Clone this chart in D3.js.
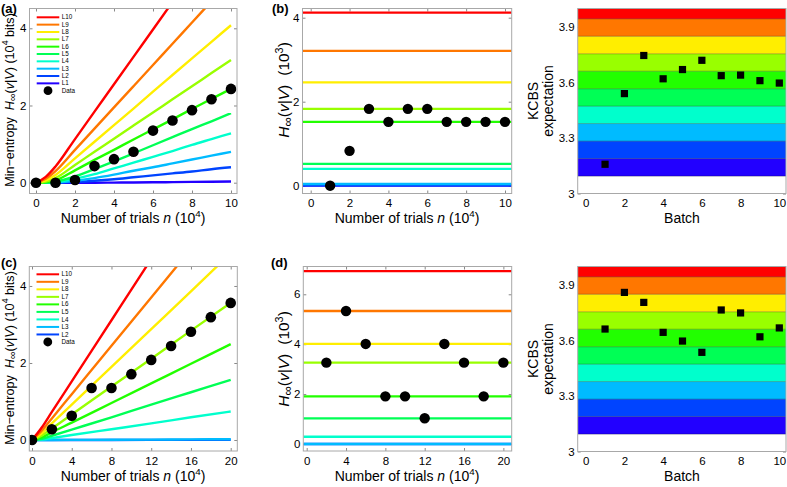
<!DOCTYPE html>
<html><head><meta charset="utf-8">
<script src="https://cdn.jsdelivr.net/npm/d3@7"></script>
<style>body{margin:0;background:#fff}text{font-family:"Liberation Sans",Arial,sans-serif;white-space:pre}</style>
</head><body><svg id="c" width="787" height="487"></svg>
<script>
// ---------- data ----------
const levelNames  = ["L1","L2","L3","L4","L5","L6","L7","L8","L9","L10"];
const levelColors = ["#2200ff","#0044ff","#00bbff","#00ffcc","#00ff55","#22ff00","#99ff00","#ffee00","#ff7700","#ff0000"];

// panel (a): min-entropy curves vs trials (10^4), values in 10^4 bits
const aTrials = [0,0.5,1,2,3,4,5,6,7,8,9,10];
const aL1  = [0,0,0,0,0,0.003,0.006,0.01,0.015,0.02,0.025,0.03];
const aL2  = [0,0,0,0.02,0.05,0.09,0.14,0.19,0.24,0.29,0.35,0.40];
const aL3  = [0,0,0.01,0.05,0.12,0.21,0.31,0.40,0.50,0.60,0.70,0.80];
const aL4  = [0,0.003,0.02,0.10,0.22,0.37,0.52,0.67,0.82,0.98,1.13,1.28];
const aL5  = [0,0.005,0.03,0.16,0.35,0.55,0.76,0.97,1.18,1.39,1.59,1.80];
const aL6  = [0,0.01,0.06,0.32,0.59,0.85,1.12,1.38,1.64,1.91,2.17,2.43];
const aL7  = [0,0.03,0.12,0.46,0.80,1.14,1.48,1.82,2.16,2.50,2.84,3.18];
const aL8  = [0,0.06,0.20,0.63,1.06,1.49,1.92,2.36,2.79,3.22,3.65,4.08];
const aL9  = [0,0.10,0.30,0.85,1.40,1.95,2.50,3.05,3.60,4.15,4.70,5.25];
const aL10 = [0,0.15,0.42,1.13,1.84,2.55,3.26,3.97,4.68,5.39,6.10,6.81];
const aDataN = [0,1,2,3,4,5,6,7,8,9,10];
const aData  = [0,0,0.07,0.43,0.61,0.80,1.35,1.61,1.88,2.16,2.43];

// panel (b): per-batch levels (10^3)
const bLevels = [0,0.01,0.04,0.40,0.52,1.52,1.83,2.46,3.21,4.12];
const bBatch  = [1,2,3,4,5,6,7,8,9,10];
const bData   = [0,0.83,1.83,1.52,1.83,1.83,1.52,1.52,1.52,1.52];

// panel (c)
const cTrials = [0,1,2,4,8,12,16,20];
const cL2  = [0,0,0,0,0,0.002,0.004,0.005];
const cL3  = [0,0,0,0.002,0.005,0.01,0.015,0.02];
const cL4  = [0,0.01,0.05,0.13,0.28,0.43,0.59,0.74];
const cL5  = [0,0.03,0.11,0.27,0.59,0.92,1.24,1.56];
const cL6  = [0,0.07,0.20,0.45,0.96,1.47,1.98,2.49];
const cL7  = [0,0.12,0.30,0.66,1.39,2.11,2.84,3.56];
const cL8  = [0,0.18,0.43,0.92,1.90,2.88,3.86,4.85];
const cL9  = [0,0.25,0.56,1.19,2.45,3.70,4.96,6.22];
const cL10 = [0,0.33,0.73,1.52,3.11,4.70,6.29,7.87];
const cDataN = [0,2,4,6,8,10,12,14,16,18,20];
const cData  = [0,0.28,0.63,1.35,1.35,1.71,2.08,2.44,2.81,3.19,3.56];

// panel (d)
const dLevels = [null,0,0,0.29,1.03,1.91,3.26,4.01,5.33,6.93];
const dTrials = [2,4,6,8,10,12,14,16,18,20];
const dData   = [3.26,5.33,4.01,1.91,1.91,1.03,4.01,3.26,1.91,3.26];

// KCBS panels
const kcbsBounds = [3.0,3.094,3.189,3.283,3.378,3.472,3.566,3.661,3.755,3.850,3.944,4.0];
const kcbsBatch  = [1,2,3,4,5,6,7,8,9,10];
const kcbsTop    = [3.158,3.54,3.746,3.62,3.67,3.72,3.637,3.64,3.61,3.597];
const kcbsBottom = [3.662,3.86,3.806,3.644,3.597,3.536,3.765,3.749,3.62,3.668];

const ticks10 = [0,2,4,6,8,10];
const ticks20 = [0,4,8,12,16,20];
const yTicksA = [0,2,4];
const yTicksD = [0,2,4,6];
const yTicksK = [3,3.3,3.6,3.9];
const yTickLabK = ["3","3.3","3.6","3.9"];

// ---------- drawing ----------
const svg = d3.select("#c");
svg.append("rect").attr("width",787).attr("height",487).attr("fill","#fff");
const FRAME = "#a8a8a8";
let clipId = 0;

function rich(sel, parts, fs){
  let shift = 0;
  parts.forEach(p=>{
    const t = sel.append("tspan").text(p.t);
    let target = 0;
    if(p.sup){ t.attr("font-size", fs*0.7); target = -fs*0.4; }
    if(p.sub){ t.attr("font-size", fs*0.85); target = fs*0.18; }
    let dy = target-shift;
    if(dy !== 0){ t.attr("dy", dy); shift = target; }
    if(p.dx) t.attr("dx", p.dx);
    if(p.i) t.attr("font-style","italic");
  });
}

function panel(o){
  const x = d3.scaleLinear().domain(o.xd).range([o.f[0],o.f[1]]);
  const y = d3.scaleLinear().domain(o.yd).range([o.f[3],o.f[2]]);
  const g = svg.append("g");
  const id = "clip"+(clipId++);
  g.append("clipPath").attr("id",id).append("rect")
    .attr("x",o.f[0]).attr("y",o.f[2]).attr("width",o.f[1]-o.f[0]).attr("height",o.f[3]-o.f[2]);
  const ax = g.append("g");
  const fs = 11.5;
  const style = s=>{ s.select(".domain").remove(); s.selectAll("line").attr("stroke","#888"); s.selectAll("text").attr("font-size",fs).attr("fill","#000").attr("font-family",'"Liberation Sans",Arial,sans-serif'); };
  ax.append("g").attr("transform",`translate(0,${o.f[3]})`)
    .call(d3.axisBottom(x).tickValues(o.xt).tickSizeInner(-3).tickSizeOuter(0).tickPadding(5.8).tickFormat(d3.format("d"))).call(style);
  ax.append("g").attr("transform",`translate(0,${o.f[2]})`)
    .call(d3.axisTop(x).tickValues(o.xt).tickSizeInner(-3).tickSizeOuter(0).tickFormat("")).call(style);
  ax.append("g").attr("transform",`translate(${o.f[0]},0)`)
    .call(d3.axisLeft(y).tickValues(o.yt).tickSizeInner(-3).tickSizeOuter(0).tickPadding(3).tickFormat((d,i)=>o.ytl?o.ytl[i]:d3.format("d")(d))).call(style);
  ax.append("g").attr("transform",`translate(${o.f[1]},0)`)
    .call(d3.axisRight(y).tickValues(o.yt).tickSizeInner(-3).tickSizeOuter(0).tickFormat("")).call(style);
  const plot = g.append("g").attr("clip-path",`url(#${id})`);
  const top = g.append("g");
  return {x,y,g,plot,top,f:o.f};
}
function box(p){
  p.g.append("rect").attr("x",p.f[0]).attr("y",p.f[2]).attr("width",p.f[1]-p.f[0]).attr("height",p.f[3]-p.f[2])
    .attr("fill","none").attr("stroke",FRAME).attr("stroke-width",1);
}
function label(txt,x,y,opts){
  const t = svg.append("text").attr("x",x).attr("y",y).attr("font-size",opts.fs).attr("text-anchor",opts.anchor||"middle");
  if(opts.rot) t.attr("transform",`rotate(-90,${x},${y})`);
  if(opts.bold) t.attr("font-weight","bold");
  if(typeof txt==="string") t.text(txt); else rich(t,txt,opts.fs);
  return t;
}

const xTitle = [{t:"Number of trials "},{t:"n",i:true},{t:" (10"},{t:"4",sup:true},{t:")"}];
const yTitleA = [{t:"Min−entropy  "},{t:"H",i:true},{t:"∞",sub:true},{t:"("},{t:"v",i:true},{t:"|"},{t:"V",i:true},{t:") (10"},{t:"4",sup:true},{t:" bits)"}];
const yTitleB = [{t:"H",i:true},{t:"∞",sub:true},{t:"("},{t:"v",i:true},{t:"|"},{t:"V",i:true},{t:")"},{t:"(10",dx:9},{t:"3",sup:true},{t:")"}];

function curvePanel(P, trials, series, names, dataN, data, legendY0, legendStep){
  const line = d3.line().x((d,i)=>P.x(trials[i])).y(d=>P.y(d)).curve(d3.curveMonotoneX);
  series.forEach((s,k)=>{
    P.plot.append("path").attr("d",line(s)).attr("fill","none").attr("stroke",levelColors[names[k]]).attr("stroke-width",2.4);
  });
  P.plot.selectAll("circle.d").data(data).join("circle").attr("cx",(d,i)=>P.x(dataN[i])).attr("cy",d=>P.y(d)).attr("r",5.3).attr("fill","#000");
  // legend (highest level first)
  const order = names.map((n,k)=>k).reverse();
  order.forEach((k,j)=>{
    const yy = legendY0 + j*legendStep;
    P.top.append("line").attr("x1",P.f[0]+7.2).attr("x2",P.f[0]+29.8).attr("y1",yy).attr("y2",yy).attr("stroke",levelColors[names[k]]).attr("stroke-width",2);
    P.top.append("text").attr("x",P.f[0]+32.2).attr("y",yy+2.1).attr("font-size",6.3).attr("font-family",'"Liberation Serif",serif').text(levelNames[names[k]]);
  });
  const yd = legendY0 + order.length*legendStep;
  P.top.append("circle").attr("cx",P.f[0]+18.5).attr("cy",yd).attr("r",4.4).attr("fill","#000");
  P.top.append("text").attr("x",P.f[0]+32.2).attr("y",yd+2.1).attr("font-size",6.3).attr("font-family",'"Liberation Serif",serif').text("Data");
}

function levelPanel(P, levels, xs, data){
  levels.forEach((v,k)=>{
    if(v===null) return;
    P.plot.append("line").attr("x1",P.f[0]).attr("x2",P.f[1]).attr("y1",P.y(v)).attr("y2",P.y(v))
      .attr("stroke",levelColors[k]).attr("stroke-width",2.3);
  });
  P.plot.selectAll("circle.d").data(data).join("circle").attr("cx",(d,i)=>P.x(xs[i])).attr("cy",d=>P.y(d)).attr("r",5.2).attr("fill","#000");
}

function kcbsPanel(P, vals){
  const bandColors = ["#ffffff"].concat(levelColors);
  for(let k=0;k<bandColors.length;k++){
    P.plot.append("rect").attr("x",P.f[0]).attr("width",P.f[1]-P.f[0])
      .attr("y",P.y(kcbsBounds[k+1])).attr("height",P.y(kcbsBounds[k])-P.y(kcbsBounds[k+1]))
      .attr("fill",bandColors[k]);
  }
  for(let k=1;k<kcbsBounds.length-1;k++){
    P.plot.append("line").attr("x1",P.f[0]).attr("x2",P.f[1]).attr("y1",P.y(kcbsBounds[k])).attr("y2",P.y(kcbsBounds[k]))
      .attr("stroke","rgba(0,0,0,0.35)").attr("stroke-width",0.8);
  }
  P.plot.selectAll("rect.s").data(vals).join("rect").attr("x",(d,i)=>P.x(kcbsBatch[i])-3.6).attr("y",d=>P.y(d)-3.6)
    .attr("width",7.2).attr("height",7.2).attr("fill","#000");
}

// (a)
const A = panel({f:[29.5,237,8.5,193.5], xd:[-0.333,10.308], yd:[-0.28,4.513], xt:ticks10, yt:yTicksA});
curvePanel(A, aTrials, [aL1,aL2,aL3,aL4,aL5,aL6,aL7,aL8,aL9,aL10], [0,1,2,3,4,5,6,7,8,9], aDataN, aData, 17.3, 7.34);
box(A);
// (b)
const B = panel({f:[302.5,511.7,8.5,193.5], xd:[-0.422,10.345], yd:[-0.186,4.219], xt:ticks10, yt:yTicksA});
levelPanel(B, bLevels, bBatch, bData);
box(B);
// top right
const R1 = panel({f:[577.7,786,8.5,193.5], xd:[-0.413,10.346], yd:[3,4], xt:ticks10, yt:yTicksK, ytl:yTickLabK});
kcbsPanel(R1, kcbsTop);
box(R1);
// (c)
const C = panel({f:[29.3,237.3,266.5,451], xd:[-0.272,20.664], yd:[-0.286,4.506], xt:ticks20, yt:yTicksA});
curvePanel(C, cTrials, [cL2,cL3,cL4,cL5,cL6,cL7,cL8,cL9,cL10], [1,2,3,4,5,6,7,8,9], cDataN, cData, 274.3, 7.52);
box(C);
// (d)
const D = panel({f:[303.3,511.7,266.5,451], xd:[-0.346,20.848], yd:[-0.281,7.114], xt:ticks20, yt:yTicksD});
levelPanel(D, dLevels, dTrials, dData);
box(D);
// bottom right
const R2 = panel({f:[577.7,786,266.5,451.5], xd:[-0.413,10.346], yd:[3,4], xt:ticks10, yt:yTicksK, ytl:yTickLabK});
kcbsPanel(R2, kcbsBottom);
box(R2);

// titles
label(xTitle,133,223,{fs:14});
label(xTitle,407,223,{fs:14});
label("Batch",682,222.5,{fs:14});
label(xTitle,133,481,{fs:14});
label(xTitle,407,481,{fs:14});
label("Batch",682,480.5,{fs:14});
label(yTitleA,13.5,100,{fs:12.6,rot:true});
label(yTitleA,13.5,358,{fs:12.6,rot:true});
label(yTitleB,289,90,{fs:15.5,rot:true});
label(yTitleB,289,359,{fs:15.5,rot:true});
label("KCBS",538,101,{fs:14,rot:true});
label("expectation",553,101,{fs:14,rot:true});
label("KCBS",538,359,{fs:14,rot:true});
label("expectation",553,359,{fs:14,rot:true});
label("(a)",1,12.5,{fs:13,bold:true,anchor:"start"});
label("(b)",272,12.5,{fs:13,bold:true,anchor:"start"});
label("(c)",1,267,{fs:13,bold:true,anchor:"start"});
label("(d)",271,267,{fs:13,bold:true,anchor:"start"});
</script></body></html>
